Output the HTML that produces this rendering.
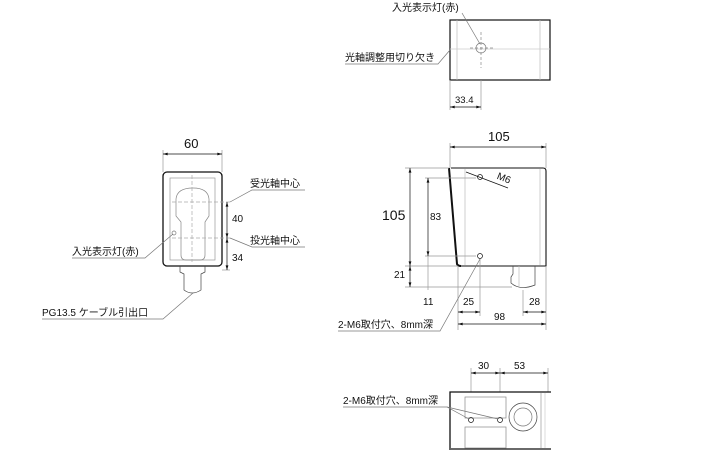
<!DOCTYPE html>
<html><head><meta charset="utf-8"><style>
body{margin:0;background:#fff}
svg text{font-family:"Liberation Sans","Noto Sans CJK JP",sans-serif;fill:#111}
</style></head><body>
<svg width="725" height="450" viewBox="0 0 725 450" xmlns="http://www.w3.org/2000/svg">
<defs>
<marker id="a" viewBox="0 0 10 6" refX="10" refY="3" markerWidth="7" markerHeight="4" orient="auto-start-reverse"><path d="M0,0L10,3L0,6z" fill="#111"/></marker>
</defs>
<g stroke="#111" fill="none" stroke-width="0.7">
<!-- top view -->
<rect x="450" y="20" width="100" height="60" stroke-width="1.2"/>
<line x1="457" y1="20" x2="457" y2="80" stroke="#bbb"/>
<line x1="540" y1="20" x2="540" y2="80" stroke="#bbb"/>
<line x1="450" y1="49" x2="550" y2="49" stroke="#ccc"/>
<circle cx="481" cy="48" r="5" stroke="#777"/>
<line x1="481" y1="32" x2="481" y2="68" stroke="#888" stroke-dasharray="3,2"/>
<line x1="470" y1="48" x2="495" y2="48" stroke="#888" stroke-dasharray="3,2"/>
<line x1="450" y1="80" x2="450" y2="110" stroke="#999"/>
<line x1="481" y1="80" x2="481" y2="110" stroke="#999"/>
<line x1="450" y1="107" x2="481" y2="107" marker-start="url(#a)" marker-end="url(#a)"/>
<polyline points="462,13 480,44" stroke="#777"/>
<polyline points="345,64 438,64 450,50" stroke="#777"/>

<!-- front view -->
<line x1="163" y1="172" x2="163" y2="150" stroke="#999"/>
<line x1="222" y1="172" x2="222" y2="150" stroke="#999"/>
<line x1="163" y1="154" x2="222" y2="154" marker-start="url(#a)" marker-end="url(#a)"/>
<rect x="163" y="172" width="59" height="94" rx="4" stroke-width="1.3"/>
<rect x="170" y="178" width="45" height="82" stroke="#999"/>
<path d="M176,199 Q177,188 193,188 Q208,188 209,199 L209,216 L205,222 L205,255 Q205,260 200,260 L186,260 Q181,260 181,255 L181,222 L176,216 Z" stroke="#888"/>
<line x1="192" y1="175" x2="192" y2="262" stroke="#aaa" stroke-dasharray="4,2"/>
<line x1="172" y1="202" x2="230" y2="202" stroke="#aaa" stroke-dasharray="4,2"/>
<line x1="172" y1="238" x2="230" y2="238" stroke="#aaa" stroke-dasharray="4,2"/>
<circle cx="174" cy="233" r="2" stroke="#777"/>
<path d="M180,266 L180,272 L184,274 L184,290 Q192,296 201,290 L201,274 L205,272 L205,266" stroke="#444"/>
<line x1="222" y1="270" x2="230" y2="270" stroke="#999"/>
<line x1="227" y1="202" x2="227" y2="238" marker-start="url(#a)" marker-end="url(#a)"/>
<line x1="227" y1="238" x2="227" y2="270" marker-start="url(#a)" marker-end="url(#a)"/>
<polyline points="305,190 252,190 230,202" stroke="#777"/>
<polyline points="305,247 252,247 230,238" stroke="#777"/>
<polyline points="72,258 145,258 173,234" stroke="#777"/>
<polyline points="42,319 163,319 193,293" stroke="#777"/>

<!-- side view -->
<line x1="450" y1="168" x2="450" y2="143" stroke="#999"/>
<line x1="546" y1="168" x2="546" y2="143" stroke="#999"/>
<line x1="450" y1="147" x2="546" y2="147" marker-start="url(#a)" marker-end="url(#a)"/>
<path d="M451,168 L543,168 Q546,168 546,171 L546,266 L459,266" stroke-width="1.1"/>
<path d="M449,168 L457,264 Q458,266 461,266" stroke-width="2"/>
<line x1="465" y1="169" x2="465" y2="265" stroke="#bbb"/>
<line x1="540" y1="169" x2="540" y2="265" stroke="#bbb"/>
<path d="M513,266 L513,274 L511,277 L511,283 Q520,291 535,285 L535,266" stroke="#444"/>
<line x1="519" y1="266" x2="519" y2="288" stroke="#bbb"/>
<line x1="405" y1="168" x2="449" y2="168" stroke="#999"/>
<line x1="405" y1="266" x2="458" y2="266" stroke="#999"/>
<line x1="405" y1="287" x2="512" y2="287" stroke="#999"/>
<line x1="425" y1="178" x2="476" y2="178" stroke="#999"/>
<line x1="425" y1="256" x2="476" y2="256" stroke="#999"/>
<line x1="410" y1="168" x2="410" y2="266" marker-start="url(#a)" marker-end="url(#a)"/>
<line x1="428" y1="178" x2="428" y2="256" marker-start="url(#a)" marker-end="url(#a)"/>
<line x1="410" y1="266" x2="410" y2="287" marker-start="url(#a)" marker-end="url(#a)"/>
<line x1="428" y1="256" x2="428" y2="290" stroke="#999"/>
<circle cx="480" cy="177" r="2.5"/>
<circle cx="480" cy="256" r="2.5"/>
<line x1="466" y1="172" x2="508" y2="188"/>
<line x1="458" y1="266" x2="458" y2="330" stroke="#999"/>
<line x1="480" y1="259" x2="480" y2="316" stroke="#999"/>
<line x1="523" y1="290" x2="523" y2="316" stroke="#999"/>
<line x1="546" y1="266" x2="546" y2="330" stroke="#999"/>
<line x1="458" y1="312" x2="480" y2="312" marker-start="url(#a)" marker-end="url(#a)"/>
<line x1="523" y1="312" x2="546" y2="312" marker-start="url(#a)" marker-end="url(#a)"/>
<line x1="458" y1="324" x2="546" y2="324" marker-start="url(#a)" marker-end="url(#a)"/>
<polyline points="338,331 440,331 480,259" stroke="#777"/>

<!-- bottom view -->
<line x1="471" y1="368" x2="471" y2="392" stroke="#999"/>
<line x1="500" y1="368" x2="500" y2="392" stroke="#999"/>
<line x1="548" y1="368" x2="548" y2="392" stroke="#999"/>
<line x1="471" y1="373" x2="500" y2="373" marker-start="url(#a)" marker-end="url(#a)"/>
<line x1="500" y1="373" x2="548" y2="373" marker-start="url(#a)" marker-end="url(#a)"/>
<path d="M551,392 L450,392 L450,450" stroke-width="1.3"/>
<line x1="451" y1="449" x2="551" y2="449" stroke-width="1.3"/>
<rect x="465" y="397" width="41" height="21" stroke="#888"/>
<rect x="465" y="427" width="41" height="21" stroke="#888"/>
<circle cx="471" cy="420" r="2.5"/>
<circle cx="500" cy="420" r="2.5"/>
<circle cx="523" cy="417" r="14" stroke="#444"/>
<circle cx="523" cy="417" r="9" stroke="#777"/>
<line x1="541" y1="393" x2="541" y2="448" stroke="#999"/>
<line x1="545" y1="393" x2="545" y2="448" stroke="#ccc"/>
<polyline points="343,407 447,407 469,419" stroke="#777"/>
<line x1="447" y1="407" x2="498" y2="419" stroke="#777"/>
</g>
<g font-size="10">
<text x="392" y="11">入光表示灯(赤)</text>
<text x="345" y="61">光軸調整用切り欠き</text>
<text x="455" y="103" font-size="9.5">33.4</text>
<text x="184" y="148" font-size="13">60</text>
<text x="250" y="187">受光軸中心</text>
<text x="250" y="244">投光軸中心</text>
<text x="232" y="222">40</text>
<text x="232" y="261">34</text>
<text x="72" y="255">入光表示灯(赤)</text>
<text x="42" y="316">PG13.5 ケーブル引出口</text>
<text x="488" y="141" font-size="13">105</text>
<text x="382" y="220" font-size="14">105</text>
<text x="430" y="220">83</text>
<text x="394" y="278">21</text>
<text x="423" y="305">11</text>
<text x="463" y="305">25</text>
<text x="529" y="305">28</text>
<text x="494" y="320">98</text>
<text x="496" y="180" transform="rotate(22 500 180)">M6</text>
<text x="338" y="328">2-M6取付穴、8mm深</text>
<text x="478" y="369">30</text>
<text x="514" y="369">53</text>
<text x="343" y="404">2-M6取付穴、8mm深</text>
</g>
</svg>
</body></html>
